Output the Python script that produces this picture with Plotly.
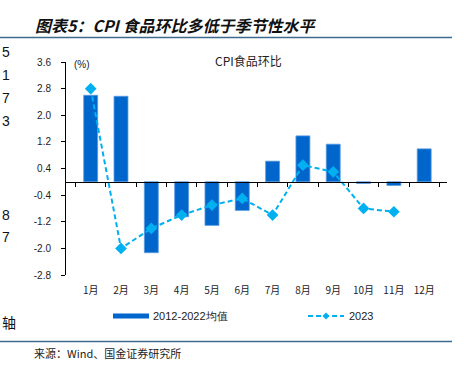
import plotly.graph_objects as go

months = ["1月", "2月", "3月", "4月", "5月", "6月", "7月", "8月", "9月", "10月", "11月", "12月"]
avg_2012_2022 = [2.6, 2.57, -2.13, -1.05, -1.31, -0.86, 0.62, 1.38, 1.13, -0.05, -0.11, 0.99]
months_2023 = ["1月", "2月", "3月", "4月", "5月", "6月", "7月", "8月", "9月", "10月", "11月"]
cpi_2023 = [2.8, -2.0, -1.4, -1.0, -0.7, -0.5, -1.0, 0.5, 0.3, -0.8, -0.9]
y_tick_vals = [3.6, 2.8, 2.0, 1.2, 0.4, -0.4, -1.2, -2.0, -2.8]
y_tick_text = ["3.6", "2.8", "2.0", "1.2", "0.4", "-0.4", "-1.2", "-2.0", "-2.8"]
series_names = ["2012-2022均值", "2023"]

BAR_C = "#0066CC"
LINE_C = "#00B0F0"
RULE_C = "#3E6A8E"
CJK = "Noto Sans CJK SC"
LAT = "Liberation Sans, Arial, sans-serif"

W, H = 470, 368
X0, X1, YT, YB = 66, 447, 62, 275


def fx(px):
    return (px - X0) / (X1 - X0)


def fy(py):
    return (YB - py) / (YB - YT)


fig = go.Figure()
fig.add_trace(go.Bar(
    x=months, y=avg_2012_2022, name=series_names[0], width=0.46,
    marker=dict(color=BAR_C, line=dict(color="#5A9BE0", width=0.8)),
    showlegend=False,
))
fig.add_trace(go.Scatter(
    x=months_2023, y=cpi_2023, name=series_names[1], mode="lines+markers",
    line=dict(color=LINE_C, width=2, dash="5px,3px"),
    marker=dict(symbol="diamond", size=9, color=LINE_C),
    showlegend=False,
))

y_min, y_max = -2.8, 3.6
zero_pos = (0 - y_min) / (y_max - y_min)

fig.update_layout(
    width=W, height=H,
    margin=dict(l=X0, r=W - X1, t=YT, b=H - YB),
    paper_bgcolor="white", plot_bgcolor="white",
    font=dict(family=LAT, size=10, color="#222"),
    bargap=0.5,
    xaxis=dict(
        categoryorder="array", categoryarray=months,
        showline=False, ticks="", showgrid=False, zeroline=False,
        tickfont=dict(family=CJK, size=10, color="#222"),
        ticklabelstandoff=8,
    ),
    xaxis2=dict(
        overlaying="x", anchor="free", position=zero_pos, side="bottom",
        matches="x", showticklabels=False, showgrid=False, zeroline=False,
        showline=True, linecolor="black", linewidth=1.2,
        ticks="outside", ticklen=4, tickcolor="black", tickson="boundaries",
        categoryorder="array", categoryarray=months,
    ),
    yaxis=dict(
        range=[y_min, y_max], tickvals=y_tick_vals, ticktext=y_tick_text,
        showline=True, linecolor="black", linewidth=1,
        ticks="outside", ticklen=4, tickcolor="black",
        showgrid=False, zeroline=False,
        tickfont=dict(family=LAT, size=10, color="#222"),
        ticklabelstandoff=8,
    ),
)
# invisible trace to activate xaxis2
fig.add_trace(go.Scatter(x=months, y=[None] * len(months), xaxis="x2",
                         showlegend=False, hoverinfo="skip"))

ann = []
ann.append(dict(text="<b><i>图表5：CPI 食品环比多低于季节性水平</i></b>",
                x=fx(33), y=fy(25), xanchor="left", yanchor="middle",
                font=dict(family=CJK, size=16, color="#111"), showarrow=False))
ann.append(dict(text="CPI食品环比", x=fx(248), y=fy(60), xanchor="center", yanchor="middle",
                font=dict(family=CJK, size=12, color="#222"), showarrow=False))
ann.append(dict(text="(%)", x=fx(72), y=fy(64), xanchor="left", yanchor="middle",
                font=dict(family=LAT, size=10, color="#222"), showarrow=False))
ann.append(dict(text="来源：Wind、国金证券研究所", x=fx(32), y=fy(353), xanchor="left",
                yanchor="middle", font=dict(family=CJK, size=11, color="#222"), showarrow=False))
ann.append(dict(text=series_names[0], x=fx(151), y=fy(316), xanchor="left", yanchor="middle",
                font=dict(family=LAT, size=11, color="#222"), showarrow=False))
ann.append(dict(text=series_names[1], x=fx(347), y=fy(316), xanchor="left", yanchor="middle",
                font=dict(family=LAT, size=11, color="#222"), showarrow=False))
# characters from neighbouring content at the left edge
for ch, py in [("5", 52), ("1", 75), ("7", 98), ("3", 121), ("8", 215), ("7", 237), ("轴", 322)]:
    ann.append(dict(text=ch, x=fx(0), y=fy(py), xanchor="left", yanchor="middle",
                    font=dict(family=LAT if ch != "轴" else CJK, size=14, color="#111"),
                    showarrow=False))
for a in ann:
    a.update(xref="paper", yref="paper")
fig.update_layout(annotations=ann)

shapes = []
shapes.append(dict(type="line", xref="paper", yref="paper", x0=fx(0), x1=fx(452),
                   y0=fy(37.5), y1=fy(37.5), line=dict(color=RULE_C, width=1.5)))
shapes.append(dict(type="line", xref="paper", yref="paper", x0=fx(0), x1=fx(452),
                   y0=fy(341.5), y1=fy(341.5), line=dict(color=RULE_C, width=1.5)))
shapes.append(dict(type="rect", xref="paper", yref="paper", x0=fx(113), x1=fx(149),
                   y0=fy(318.5), y1=fy(313.5), fillcolor=BAR_C, line=dict(width=0)))
shapes.append(dict(type="line", xref="paper", yref="paper", x0=fx(308), x1=fx(344),
                   y0=fy(316), y1=fy(316), line=dict(color=LINE_C, width=2, dash="5px,3px")))
cx, cy, r = 326, 316, 3.5
shapes.append(dict(type="path", xref="paper", yref="paper",
                   path=f"M {fx(cx - r)} {fy(cy)} L {fx(cx)} {fy(cy - r)} L {fx(cx + r)} {fy(cy)} L {fx(cx)} {fy(cy + r)} Z",
                   fillcolor=LINE_C, line=dict(width=0)))
fig.update_layout(shapes=shapes)

fig.write_html("out.html", config={"displayModeBar": False},
               post_script="document.body.style.margin='0';document.body.style.overflow='hidden';")
